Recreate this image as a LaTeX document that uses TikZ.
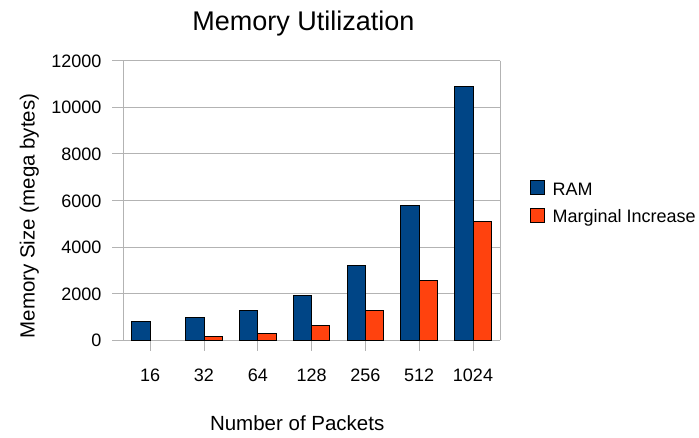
\documentclass[tikz,border=0pt]{standalone}
\usepackage{fontspec}
\setmainfont{Liberation Sans}
\definecolor{ramblue}{HTML}{004586}
\definecolor{incorange}{HTML}{FF420E}
\definecolor{gridgray}{HTML}{B3B3B3}
\begin{document}
\begin{tikzpicture}[x=1pt,y=-1pt,
  gridline/.style={draw=gridgray,line width=0.9pt},
  barbox/.style={draw=black,line width=0.7pt},
  ticklab/.style={font=\fontsize{18}{20}\selectfont,inner sep=0pt},
  axlab/.style={font=\fontsize{20.5}{23}\selectfont,inner sep=0pt},
  titlelab/.style={font=\fontsize{27}{30}\selectfont,inner sep=0pt}]
\useasboundingbox[fill=white] (0,0) rectangle (699,437);
% horizontal grid and y tick labels
\foreach \v in {0,2000,4000,6000,8000,10000,12000}{
  \draw[gridline] (112,{340.3-\v*0.0233}) -- (500,{340.3-\v*0.0233});
  \node[ticklab,anchor=base east] (y\v) at (101.7,{346.9-\v*0.0233}) {\v};
}
% plot frame verticals
\draw[gridline] (123.3,60.7) -- (123.3,340.3);
\draw[gridline] (500,60.7) -- (500,340.3);
% bars
\foreach \i/\r/\m/\lab in {0/815/0/16,1/987/172/32,2/1288/301/64,3/1931/643/128,4/3219/1288/256,5/5794/2575/512,6/10901/5107/1024}{
  \pgfmathsetmacro{\cx}{150.2+53.8*\i}
  \draw[gridline] (\cx,340.3) -- (\cx,351);
  \filldraw[barbox,fill=ramblue] ({\cx-18.5},340.3) rectangle (\cx,{340.3-\r*0.0233});
  \ifnum\m>0
    \filldraw[barbox,fill=incorange] (\cx,340.3) rectangle ({\cx+18.2},{340.3-\m*0.0233});
  \fi
  \node[ticklab,anchor=base] (c\i) at (\cx,381.7) {\lab};
}
% titles
\node[titlelab,anchor=base] (title) at (303.5,30) {Memory Utilization};
\node[axlab,anchor=base] (xtitle) at (297.2,430.7) {Number of Packets};
\node[axlab,anchor=base,rotate=90] (ytitle) at (34.5,216) {Memory Size (mega bytes)};
% legend
\filldraw[barbox,fill=ramblue] (530,180) rectangle (544.3,194);
\filldraw[barbox,fill=incorange] (530,208.3) rectangle (544.3,222.5);
\node[ticklab,anchor=base west] (legram) at (552.3,195.7) {RAM};
\node[ticklab,anchor=base west] (leginc) at (552.3,222.3) {Marginal Increase};
\end{tikzpicture}
\end{document}
